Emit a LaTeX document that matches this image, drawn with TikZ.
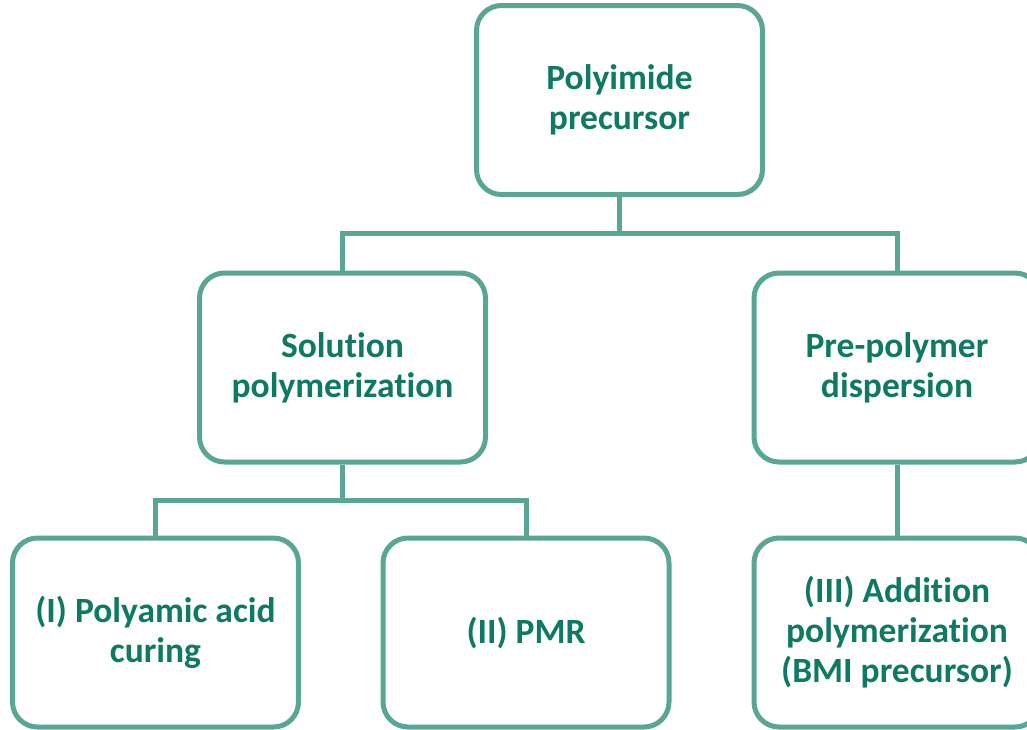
\documentclass[tikz,border=0pt]{standalone}
\usepackage{fontspec}
\setmainfont{Carlito}[Ligatures={NoCommon}]
\definecolor{boxline}{RGB}{90,166,148}
\definecolor{boxtext}{RGB}{14,122,100}
\begin{document}
\begin{tikzpicture}[x=1pt,y=-1pt,
  stagebox/.style={draw=boxline, line width=5pt, rounded corners=25pt, fill=white,
    minimum width=286pt, minimum height=189pt, align=center, inner sep=0pt,
    text=boxtext, font=\fontsize{35.5}{40}\selectfont\bfseries},
  link/.style={draw=boxline, line width=5pt}]
\path[use as bounding box, clip] (0,0) rectangle (1027,729);

% tree of precursor routes
\node[stagebox] (top) at (619.5,100) {Polyimide\\precursor};
\node[stagebox] (sol) at (342.5,367.5) {Solution\\polymerization};
\node[stagebox] (pre) at (897,367.5) {Pre-polymer\\dispersion};
\node[stagebox] (paa) at (155.5,632.5) {(I) Polyamic acid\\curing};
\node[stagebox] (pmr) at (526,632.5) {(II) PMR};
\node[stagebox] (bmi) at (897,632.5) {(III) Addition\\polymerization\\(BMI precursor)};

% connectors
\coordinate (busA) at (0,233);
\coordinate (busB) at (0,500);
\draw[link] (top.south) -- (top.south |- busA) -| (sol.north);
\draw[link] (top.south |- busA) -| (pre.north);
\draw[link] (sol.south) -- (sol.south |- busB) -| (paa.north);
\draw[link] (sol.south |- busB) -| (pmr.north);
\draw[link] (pre.south) -- (bmi.north);
\end{tikzpicture}
\end{document}
